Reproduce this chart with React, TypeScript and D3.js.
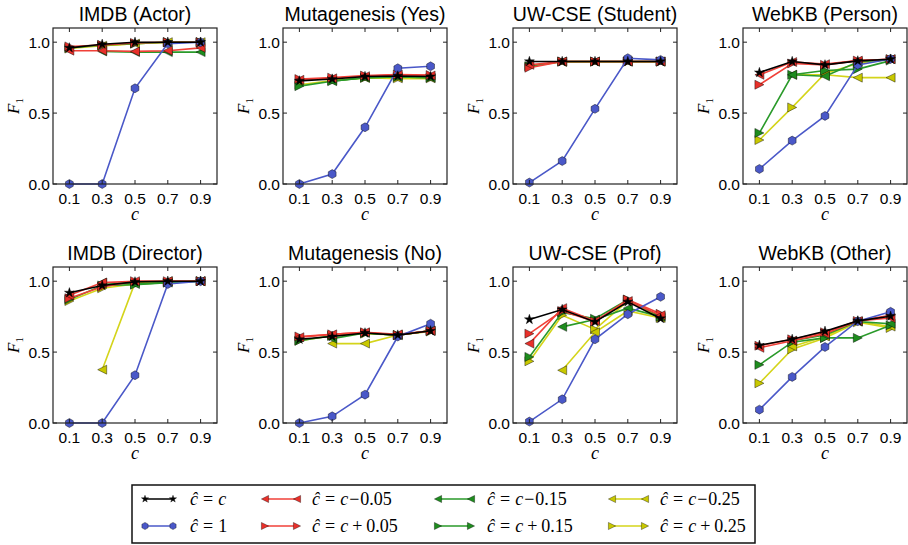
import React from "react";
import * as d3 from "d3";

const cValues = [0.1, 0.3, 0.5, 0.7, 0.9];
const xTicks = ["0.1", "0.3", "0.5", "0.7", "0.9"];
const yTicks = [0, 0.5, 1.0];
const panelTitles = [
  "IMDB (Actor)", "Mutagenesis (Yes)", "UW-CSE (Student)", "WebKB (Person)",
  "IMDB (Director)", "Mutagenesis (No)", "UW-CSE (Prof)", "WebKB (Other)",
];
// series order: c, 1, c-0.05, c+0.05, c-0.15, c+0.15, c-0.25, c+0.25
const seriesKeys = ["exact", "one", "m05", "p05", "m15", "p15", "m25", "p25"];

const imdbActor = [
  [0.96, 0.985, 1.0, 1.0, 1.0],
  [0, 0, 0.675, 0.99, 1.0],
  [0.94, 0.94, 0.935, 0.94, 0.96],
  [0.97, 0.98, 0.995, 1.0, 1.0],
  [null, 0.935, 0.93, 0.93, 0.93],
  [0.96, 0.98, 0.99, 1.0, 1.0],
  [null, 0.975, 0.99, 1.0, 1.0],
  [0.955, 0.975, 0.99, 1.0, 1.0],
];
const mutaYes = [
  [0.727, 0.74, 0.758, 0.762, 0.758],
  [0, 0.07, 0.4, 0.816, 0.83],
  [0.735, 0.745, 0.76, 0.77, 0.765],
  [0.74, 0.75, 0.765, 0.772, 0.768],
  [null, 0.725, 0.75, 0.755, 0.75],
  [0.69, 0.725, 0.75, 0.755, 0.75],
  [null, 0.73, 0.748, 0.745, 0.745],
  [0.7, 0.73, 0.748, 0.745, 0.745],
];
const uwStudent = [
  [0.864, 0.864, 0.864, 0.864, 0.864],
  [0.01, 0.162, 0.53, 0.887, 0.875],
  [0.84, 0.864, 0.864, 0.864, 0.864],
  [0.82, 0.864, 0.864, 0.864, 0.864],
  [null, 0.864, 0.864, 0.864, 0.864],
  [0.83, 0.864, 0.864, 0.864, 0.864],
  [null, 0.86, 0.862, 0.862, 0.862],
  [0.83, 0.862, 0.862, 0.862, 0.862],
];
const webkbPerson = [
  [0.786, 0.864, 0.84, 0.868, 0.88],
  [0.106, 0.306, 0.48, 0.84, 0.882],
  [0.77, 0.86, 0.845, 0.87, 0.88],
  [0.7, 0.85, 0.84, 0.87, 0.88],
  [null, 0.77, 0.76, 0.86, 0.88],
  [0.36, 0.77, 0.8, 0.81, 0.87],
  [null, 0.77, 0.77, 0.75, 0.75],
  [0.31, 0.54, 0.78, 0.85, 0.88],
];
const imdbDirector = [
  [0.918, 0.97, 0.995, 1.0, 1.0],
  [0, 0, 0.337, 0.98, 1.0],
  [0.9, 0.99, 1.0, 1.0, 1.0],
  [0.88, 0.96, 1.0, 1.0, 1.0],
  [null, 0.99, 0.98, 0.99, 1.0],
  [0.87, 0.97, 0.975, 0.99, 1.0],
  [null, 0.376, 0.99, 1.0, 1.0],
  [0.86, 0.95, 0.98, 0.99, 1.0],
];
const mutaNo = [
  [0.59, 0.61, 0.635, 0.62, 0.65],
  [0, 0.047, 0.2, 0.61, 0.7],
  [0.605, 0.625, 0.64, 0.625, 0.65],
  [0.61, 0.625, 0.64, 0.62, 0.65],
  [null, 0.595, 0.635, 0.62, 0.65],
  [0.58, 0.615, 0.635, 0.62, 0.65],
  [null, 0.56, 0.56, 0.62, 0.65],
  [0.58, 0.615, 0.63, 0.62, 0.645],
];
const uwProf = [
  [0.73, 0.8, 0.713, 0.854, 0.737],
  [0.01, 0.167, 0.59, 0.767, 0.89],
  [0.56, 0.81, 0.72, 0.86, 0.76],
  [0.63, 0.79, 0.715, 0.87, 0.77],
  [null, 0.678, 0.73, 0.81, 0.75],
  [0.466, 0.78, 0.735, 0.87, 0.75],
  [null, 0.372, 0.64, 0.79, 0.74],
  [0.435, 0.76, 0.66, 0.86, 0.74],
];
const webkbOther = [
  [0.548, 0.59, 0.647, 0.72, 0.753],
  [0.094, 0.325, 0.536, 0.718, 0.784],
  [0.53, 0.58, 0.63, 0.72, 0.74],
  [0.545, 0.59, 0.64, 0.72, 0.76],
  [null, 0.58, 0.62, 0.715, 0.7],
  [0.41, 0.57, 0.6, 0.6, 0.69],
  [null, 0.54, 0.61, 0.715, 0.68],
  [0.28, 0.52, 0.6, 0.71, 0.67],
];
const panelData = [imdbActor, mutaYes, uwStudent, webkbPerson, imdbDirector, mutaNo, uwProf, webkbOther];

const seriesStyle: Record<string, { color: string; line: string; marker: string }> = {
  exact: { color: "#000000", line: "#000000", marker: "star" },
  one: { color: "#4a58c8", line: "#4a58c8", marker: "hex" },
  m05: { color: "#e8302a", line: "#f04038", marker: "left" },
  p05: { color: "#e8302a", line: "#f04038", marker: "right" },
  m15: { color: "#1e8c1e", line: "#2a9a2a", marker: "left" },
  p15: { color: "#1e8c1e", line: "#2a9a2a", marker: "right" },
  m25: { color: "#c8c800", line: "#d4d41a", marker: "left" },
  p25: { color: "#c8c800", line: "#d4d41a", marker: "right" },
};
const drawOrder = [7, 6, 5, 4, 3, 2, 1, 0];

const W = 908, H = 545;
const colLeft = [53, 283, 513, 743];
const plotW = 164;
const rowTop = [28, 267];
const plotH = 156;

function markerPath(kind: string, r: number): string {
  if (kind === "star") {
    return d3.symbol(d3.symbolStar, (r * r) / 0.89)() as string;
  }
  if (kind === "hex") {
    const pts = d3.range(6).map((k) => {
      const a = ((-90 + k * 60) * Math.PI) / 180;
      return [r * Math.cos(a), r * Math.sin(a)];
    });
    return "M" + pts.map((p) => p.join(",")).join("L") + "Z";
  }
  if (kind === "left") return `M${-r},0L${r},${-r}L${r},${r}Z`;
  return `M${r},0L${-r},${-r}L${-r},${r}Z`;
}

function Panel({ idx }: { idx: number }) {
  const left = colLeft[idx % 4];
  const top = rowTop[Math.floor(idx / 4)];
  const x = d3.scaleLinear().domain([0, 1]).range([left, left + plotW]);
  const y = d3.scaleLinear().domain([0, 1.1]).range([top + plotH, top]);
  const data = panelData[idx];
  const line = d3
    .line<[number, number | null]>()
    .defined((d) => d[1] !== null)
    .x((d) => x(d[0]))
    .y((d) => y(d[1] as number));
  const bottom = top + plotH;
  const tickLen = 4;
  return (
    <g>
      <text x={left + plotW / 2} y={top - 7} textAnchor="middle" fontFamily="Liberation Sans, Arial, sans-serif" fontSize={19.5} fill="#000">
        {panelTitles[idx]}
      </text>
      {drawOrder.map((si) => {
        const key = seriesKeys[si];
        const st = seriesStyle[key];
        const pts = cValues.map((c, i) => [c, data[si][i]] as [number, number | null]);
        return (
          <g key={key}>
            <path d={line(pts) || ""} fill="none" stroke={st.line} strokeWidth={1.6} />
            {pts.filter((p) => p[1] !== null).map((p, i) => (
              <path
                key={i}
                d={markerPath(st.marker, st.marker === "star" ? 5.2 : 4.5)}
                transform={`translate(${x(p[0])},${y(p[1] as number)})`}
                fill={st.color}
                stroke="#000"
                strokeWidth={0.6}
                strokeOpacity={0.7}
              />
            ))}
          </g>
        );
      })}
      <rect x={left} y={top} width={plotW} height={plotH} fill="none" stroke="#222" strokeWidth={1.2} />
      {cValues.map((c, i) => (
        <g key={"xt" + i}>
          <line x1={x(c)} x2={x(c)} y1={bottom} y2={bottom - tickLen} stroke="#222" />
          <line x1={x(c)} x2={x(c)} y1={top} y2={top + tickLen} stroke="#222" />
          <text x={x(c)} y={bottom + 20} textAnchor="middle" fontFamily="Liberation Sans, Arial, sans-serif" fontSize={15.5} fill="#000">
            {xTicks[i]}
          </text>
        </g>
      ))}
      {yTicks.map((v, i) => (
        <g key={"yt" + i}>
          <line x1={left} x2={left + tickLen} y1={y(v)} y2={y(v)} stroke="#222" />
          <line x1={left + plotW} x2={left + plotW - tickLen} y1={y(v)} y2={y(v)} stroke="#222" />
          <text x={left - 3} y={y(v) + 5.5} textAnchor="end" fontFamily="Liberation Sans, Arial, sans-serif" fontSize={15.5} fill="#000">
            {v.toFixed(1)}
          </text>
        </g>
      ))}
      <text x={left + plotW / 2} y={bottom + 36} textAnchor="middle" fontFamily="Liberation Serif, serif" fontStyle="italic" fontSize={18} fill="#000">
        c
      </text>
      <text transform={`translate(${left - 34},${top + plotH / 2}) rotate(-90)`} textAnchor="middle" fontFamily="Liberation Serif, serif" fontSize={17} fill="#000">
        <tspan fontStyle="italic">F</tspan>
        <tspan fontSize={11} dy={4}>1</tspan>
      </text>
    </g>
  );
}

const legendCols = [
  { lx: [145, 173], tx: 190 },
  { lx: [265, 297], tx: 312 },
  { lx: [438, 471], tx: 487 },
  { lx: [612, 645], tx: 660 },
];
const legendRows = [499, 526];
const legendText: Record<string, [string, string]> = {
  exact: ["c", ""],
  one: ["1", ""],
  m05: ["c", "\u22120.05"],
  p05: ["c", "+0.05"],
  m15: ["c", "\u22120.15"],
  p15: ["c", "+0.15"],
  m25: ["c", "\u22120.25"],
  p25: ["c", "+0.25"],
};

function Legend() {
  return (
    <g>
      <rect x={132} y={485} width={623} height={58} fill="#fff" stroke="#111" strokeWidth={1.5} />
      {seriesKeys.map((key, i) => {
        const col = legendCols[Math.floor(i / 2)];
        const yy = legendRows[i % 2];
        const st = seriesStyle[key];
        const [rhs, tail] = legendText[key];
        const r = st.marker === "star" ? 3.8 : 3.6;
        return (
          <g key={key}>
            <line x1={col.lx[0]} x2={col.lx[1]} y1={yy} y2={yy} stroke={st.line} strokeWidth={1.5} />
            {col.lx.map((lx, j) => (
              <path key={j} d={markerPath(st.marker, r)} transform={`translate(${lx},${yy})`} fill={st.color} stroke="#000" strokeWidth={0.5} strokeOpacity={0.7} />
            ))}
            <text x={col.tx} y={yy + 5.5} fontFamily="Liberation Serif, serif" fontSize={18} fill="#000">
              <tspan fontStyle="italic">{"\u0109"}</tspan>
              <tspan dx={5}>=</tspan>
              {rhs === "c" ? (
                <tspan dx={5} fontStyle="italic">c</tspan>
              ) : (
                <tspan dx={5}>{rhs}</tspan>
              )}
              {tail ? (
                tail[0] === "+" ? (
                  <>
                    <tspan dx={4}>+</tspan>
                    <tspan dx={4}>{tail.slice(1)}</tspan>
                  </>
                ) : (
                  <>
                    <tspan dx={1}>{"\u2212"}</tspan>
                    <tspan dx={1}>{tail.slice(1)}</tspan>
                  </>
                )
              ) : null}
            </text>
          </g>
        );
      })}
    </g>
  );
}

export default function App() {
  return (
    <svg width={W} height={H} style={{ position: "absolute", left: 0, top: 0, background: "#fff" }}>
      <rect x={0} y={0} width={W} height={H} fill="#fff" />
      {panelTitles.map((_, i) => (
        <Panel key={i} idx={i} />
      ))}
      <Legend />
    </svg>
  );
}
